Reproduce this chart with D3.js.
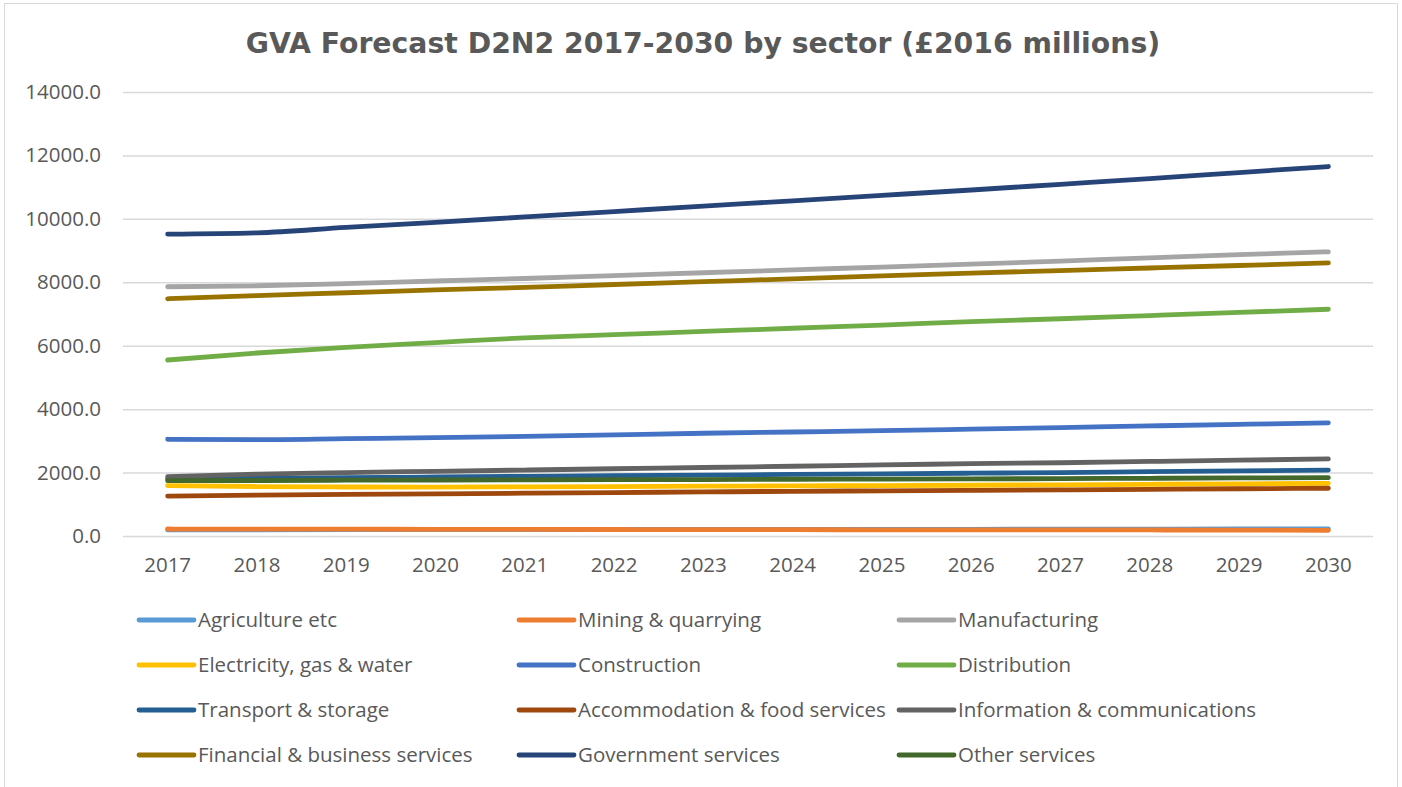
<!DOCTYPE html>
<html>
<head>
<meta charset="utf-8">
<script src="https://cdn.jsdelivr.net/npm/d3@7"></script>
<style>
  html, body { margin: 0; padding: 0; background: #fff; }
  svg { display: block; }
</style>
</head>
<body>
<svg id="chart" width="1402" height="787"></svg>
<script>
// GVA forecast by sector, D2N2, 2017-2030 (£2016 millions)
const years = ["2017","2018","2019","2020","2021","2022","2023","2024","2025","2026","2027","2028","2029","2030"];
const yTicks = [0, 2000, 4000, 6000, 8000, 10000, 12000, 14000];

const agriculture   = [190, 195, 200, 200, 205, 205, 205, 210, 210, 210, 215, 215, 220, 220];
const mining        = [220, 215, 215, 210, 210, 205, 200, 200, 195, 195, 190, 190, 185, 180];
const manufacturing = [7860, 7890, 7960, 8040, 8120, 8210, 8300, 8390, 8480, 8570, 8670, 8770, 8870, 8960];
const electricity   = [1590, 1560, 1545, 1540, 1550, 1560, 1570, 1580, 1590, 1600, 1615, 1630, 1645, 1660];
const construction  = [3050, 3040, 3070, 3100, 3140, 3190, 3240, 3280, 3320, 3370, 3420, 3470, 3520, 3570];
const distribution  = [5550, 5770, 5950, 6100, 6250, 6350, 6450, 6550, 6650, 6760, 6850, 6950, 7050, 7150];
const transport     = [1800, 1820, 1840, 1860, 1880, 1900, 1920, 1940, 1960, 1980, 2000, 2030, 2055, 2080];
const accommodation = [1260, 1290, 1310, 1330, 1350, 1370, 1390, 1410, 1425, 1440, 1455, 1470, 1490, 1505];
const information   = [1870, 1950, 2000, 2040, 2080, 2120, 2160, 2200, 2240, 2280, 2310, 2350, 2390, 2430];
const financial     = [7480, 7580, 7670, 7760, 7840, 7930, 8020, 8110, 8200, 8290, 8370, 8450, 8530, 8610];
const government    = [9520, 9560, 9730, 9890, 10060, 10230, 10400, 10570, 10740, 10910, 11090, 11270, 11460, 11650];
const otherServices = [1745, 1750, 1760, 1765, 1770, 1775, 1780, 1790, 1795, 1800, 1810, 1820, 1830, 1840];

const seriesNames = [
  "Agriculture etc", "Mining & quarrying", "Manufacturing",
  "Electricity, gas & water", "Construction", "Distribution",
  "Transport & storage", "Accommodation & food services", "Information & communications",
  "Financial & business services", "Government services", "Other services"
];
const seriesValues = [
  agriculture, mining, manufacturing,
  electricity, construction, distribution,
  transport, accommodation, information,
  financial, government, otherServices
];
const seriesColors = [
  "#5B9BD5", "#ED7D31", "#A5A5A5",
  "#FFC000", "#4472C4", "#70AD47",
  "#255E91", "#9E480E", "#636363",
  "#997300", "#264478", "#43682B"
];

const svg = d3.select("#chart");
const W = 1402, H = 787;
const plot = { left: 123, right: 1373, top: 92, bottom: 536 };
const textColor = "#595959";
const font = "'Open Sans', 'Noto Sans', sans-serif";
const fontSize = 20.5;

// outer frame
svg.append("rect")
  .attr("x", 4.5).attr("y", 3.5)
  .attr("width", W - 9).attr("height", H + 10)
  .attr("fill", "#fff").attr("stroke", "#d9d9d9").attr("stroke-width", 1);

// title
svg.append("text")
  .attr("x", 703).attr("y", 53)
  .attr("text-anchor", "middle")
  .attr("font-family", "'DejaVu Sans', sans-serif")
  .attr("font-weight", "bold")
  .attr("font-size", 28.3)
  .attr("fill", textColor)
  .text("GVA Forecast D2N2 2017-2030 by sector (£2016 millions)");

const x = d3.scaleBand().domain(years).range([plot.left, plot.right]);
const y = d3.scaleLinear().domain([0, 14000]).range([plot.bottom, plot.top]);

// gridlines + value axis labels
const yAxis = d3.axisLeft(y)
  .tickValues(yTicks)
  .tickSize(-(plot.right - plot.left))
  .tickPadding(22)
  .tickFormat(d3.format(".1f"));
const gy = svg.append("g")
  .attr("transform", `translate(${plot.left},0)`)
  .call(yAxis);
gy.select(".domain").remove();
gy.selectAll(".tick line").attr("stroke", "#d9d9d9").attr("stroke-width", 1.5);
gy.selectAll(".tick text")
  .attr("font-family", font).attr("font-size", fontSize)
  .attr("fill", textColor);

// category axis labels
const xAxis = d3.axisBottom(x).tickSize(0).tickPadding(21);
const gx = svg.append("g")
  .attr("transform", `translate(0,${plot.bottom})`)
  .call(xAxis);
gx.select(".domain").remove();
gx.selectAll(".tick text")
  .attr("font-family", font).attr("font-size", fontSize)
  .attr("fill", textColor);

// series lines
const line = d3.line()
  .x((d, i) => x(years[i]) + x.bandwidth() / 2)
  .y(d => y(d))
  .curve(d3.curveMonotoneX);

svg.append("g").selectAll("path")
  .data(seriesValues)
  .join("path")
  .attr("d", line)
  .attr("fill", "none")
  .attr("stroke", (d, i) => seriesColors[i])
  .attr("stroke-width", 4.8)
  .attr("stroke-linecap", "round")
  .attr("stroke-linejoin", "round");

// legend: three columns, four rows
const legend = svg.append("g");
const colX = [139, 519, 899];
const rowY = [620, 665, 710, 755];
seriesNames.forEach((name, i) => {
  const cx = colX[i % 3], cy = rowY[Math.floor(i / 3)];
  const item = legend.append("g").attr("transform", `translate(${cx},${cy})`);
  item.append("line")
    .attr("x1", 0).attr("x2", 55).attr("y1", 0).attr("y2", 0)
    .attr("stroke", seriesColors[i]).attr("stroke-width", 4.8)
    .attr("stroke-linecap", "round");
  item.append("text")
    .attr("x", 59).attr("y", 0).attr("dy", "0.35em")
    .attr("font-family", font).attr("font-size", fontSize)
    .attr("fill", textColor)
    .text(name);
});
</script>
</body>
</html>
